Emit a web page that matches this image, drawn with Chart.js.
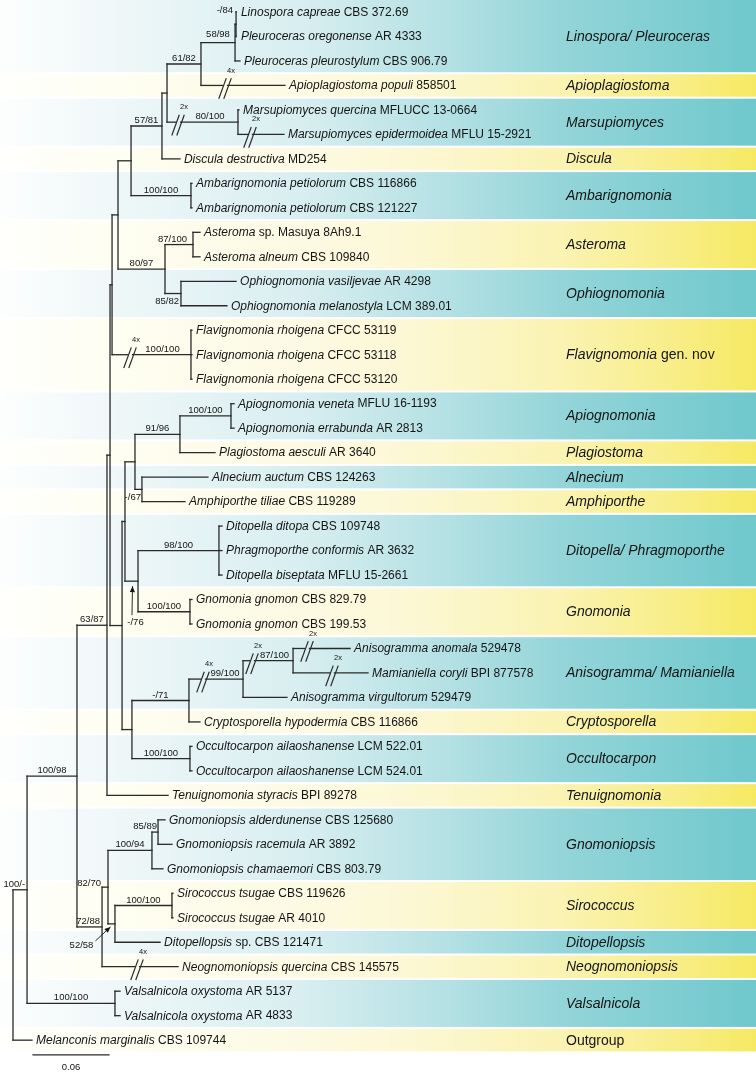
<!DOCTYPE html>
<html><head><meta charset="utf-8">
<script src="https://cdn.jsdelivr.net/npm/chart.js@4.4.1/dist/chart.umd.min.js"></script>
<style>html,body{margin:0;padding:0;background:#fff;}canvas{display:block}</style>
</head><body>
<canvas id="c" width="756" height="1074"></canvas>
<script>
// ---------- DATA ----------
const leafItalic = ['Linospora capreae','Pleuroceras oregonense','Pleuroceras pleurostylum','Apioplagiostoma populi','Marsupiomyces quercina','Marsupiomyces epidermoidea','Discula destructiva','Ambarignomonia petiolorum','Ambarignomonia petiolorum','Asteroma','Asteroma alneum','Ophiognomonia vasiljevae','Ophiognomonia melanostyla','Flavignomonia rhoigena','Flavignomonia rhoigena','Flavignomonia rhoigena','Apiognomonia veneta','Apiognomonia errabunda','Plagiostoma aesculi','Alnecium auctum','Amphiporthe tiliae','Ditopella ditopa','Phragmoporthe conformis','Ditopella biseptata','Gnomonia gnomon','Gnomonia gnomon','Anisogramma anomala','Mamianiella coryli','Anisogramma virgultorum','Cryptosporella hypodermia','Occultocarpon ailaoshanense','Occultocarpon ailaoshanense','Tenuignomonia styracis','Gnomoniopsis alderdunense','Gnomoniopsis racemula','Gnomoniopsis chamaemori','Sirococcus tsugae','Sirococcus tsugae','Ditopellopsis','Neognomoniopsis quercina','Valsalnicola oxystoma','Valsalnicola oxystoma','Melanconis marginalis'];
const leafRoman = [' CBS 372.69',' AR 4333',' CBS 906.79',' 858501',' MFLUCC 13-0664',' MFLU 15-2921',' MD254',' CBS 116866',' CBS 121227',' sp. Masuya 8Ah9.1',' CBS 109840',' AR 4298',' LCM 389.01',' CFCC 53119',' CFCC 53118',' CFCC 53120',' MFLU 16-1193',' AR 2813',' AR 3640',' CBS 124263',' CBS 119289',' CBS 109748',' AR 3632',' MFLU 15-2661',' CBS 829.79',' CBS 199.53',' 529478',' BPI 877578',' 529479',' CBS 116866',' LCM 522.01',' LCM 524.01',' BPI 89278',' CBS 125680',' AR 3892',' CBS 803.79',' CBS 119626',' AR 4010',' sp. CBS 121471',' CBS 145575',' AR 5137',' AR 4833',' CBS 109744'];
const leafParent = ['P3','P3','P2','P1','MA','MA','K','AM','AM','AS','AS','OP','OP','FL','FL','FL','U','U','V','W','W','Y','Y','Y','Z','Z','T','T','S','R','OC','OC','C','G','G','F','SI','SI','H','D','VA','VA','root'];
const leafDepth = [0.1768,0.1768,0.1792,0.2147,0.1784,0.2139,0.1318,0.1413,0.1413,0.1476,0.1476,0.1761,0.1689,0.1413,0.1413,0.1413,0.1745,0.1745,0.1595,0.1539,0.1358,0.1650,0.1650,0.1650,0.1413,0.1413,0.2661,0.2803,0.2163,0.1476,0.1413,0.1413,0.1224,0.1200,0.1255,0.1184,0.1263,0.1263,0.1161,0.1303,0.0845,0.0845,0.0150];

const nodeId      = ['root','A','B','C','O','N','L','J','K','K2','P1','P2','P3','MA','AM','M','AS','OP','FL','AC','AB','X','V','U','W','AA','Y','Z','Q','R','S','T','OC','D','E','F','G','H','SI','VA'];
const nodeParent  = [null,'root','A','B','C','O','N','L','J','K','K2','P1','P2','K2','J','L','M','M','N','O','AC','AB','X','V','X','AB','AA','AA','AC','Q','R','S','Q','B','D','E','F','E','H','A'];
const nodeDepth   = [0,0.0111,0.0505,0.0742,0.0766,0.0782,0.0829,0.0932,0.1176,0.1216,0.1484,0.1753,0.1761,0.1776,0.1405,0.1200,0.1421,0.1326,0.1405,0.0861,0.0884,0.0963,0.1318,0.1721,0.1018,0.0987,0.1626,0.1397,0.0939,0.1389,0.1816,0.2211,0.1397,0.0703,0.0750,0.1097,0.1145,0.0805,0.1255,0.0805];
const nodeSupport = ['','100/-','100/98','63/87','','','','','57/81','','61/82','58/98','-/84','80/100','100/100','80/97','87/100','85/82','100/100','','','','91/96','100/100','-/67','-/76','98/100','100/100','','-/71','99/100','87/100','100/100','72/88','82/70','100/94','85/89','52/58','100/100','100/100'];

const breakOn    = ['L3','MA','L5','FL','S','T','L26','L27','L39'];
const breakDepth = [0.1674,0.1303,0.1871,0.0924,0.1500,0.1887,0.2321,0.2518,0.0979];
const breakLabel = ['4x','2x','2x','4x','4x','2x','2x','2x','4x'];

const cladeItalic = ['Linospora/ Pleuroceras','Apioplagiostoma','Marsupiomyces','Discula','Ambarignomonia','Asteroma','Ophiognomonia','Flavignomonia','Apiognomonia','Plagiostoma','Alnecium','Amphiporthe','Ditopella/ Phragmoporthe','Gnomonia','Anisogramma/ Mamianiella','Cryptosporella','Occultocarpon','Tenuignomonia','Gnomoniopsis','Sirococcus','Ditopellopsis','Neognomoniopsis','Valsalnicola',''];
const cladeRoman  = ['','','','','','','',' gen. nov','','','','','','','','','','','','','','','','Outgroup'];
const cladeFirst  = [0,3,4,6,7,9,11,13,16,18,19,20,21,24,26,29,30,32,33,36,38,39,40,42];
const cladeLast   = [2,3,5,6,8,10,12,15,17,18,19,20,23,25,28,29,31,32,35,37,38,39,41,42];

const scaleBarStart = 0.0158;
const scaleBarLength = 0.06;
const scaleBarRow = 42.6;
const scaleBarLabel = '0.06';

// ---------- LAYOUT / STYLE ----------
const PX = 0.06 / 76;        // distance units per pixel
const ROW = 24.48;           // pixels per leaf row
const XMIN = -13 * PX, XMAX = XMIN + 756 * PX;
const YMIN = -12 / ROW, YMAX = YMIN + 1074 / ROW;
const LINE = '#2a2a2a';
const TXT = '#141414';
const FONT = '"Liberation Sans", Arial, Helvetica, sans-serif';
const TEAL = [[0,'#fdfefe'],[0.13,'#f1f8f9'],[0.4,'#d8eef0'],[0.6,'#b2e0e3'],[0.74,'#94d5d9'],[0.92,'#7accd0'],[1,'#6fc8cc']];
const YELL = [[0,'#fffffd'],[0.13,'#fefef3'],[0.4,'#fcfae3'],[0.53,'#fcf8d6'],[0.74,'#faf3b3'],[0.9,'#f8ed85'],[1,'#f5e963']];
const supportLayout = {OP:{mode:'below',pad:2},W:{mode:'below',pad:1},E:{mode:'parentLeft'},AA:{mode:'arrowUp'},H:{mode:'arrowDiag'},AS:{mode:'right',pad:6},G:{mode:'right',pad:1},P3:{mode:'right',pad:3,dy:-8},P2:{dy:-3}};

// ---------- TREE GEOMETRY ----------
const pos = {};
leafItalic.forEach((_, i) => { pos['L' + i] = {depth: leafDepth[i], y: i, parent: leafParent[i], leaf: true}; });
nodeId.forEach((id, i) => { pos[id] = {depth: nodeDepth[i], parent: nodeParent[i], support: nodeSupport[i], children: []}; });
Object.keys(pos).forEach(id => { const p = pos[id].parent; if (p) pos[p].children.push(id); });
function yOf(id) {
  const n = pos[id];
  if (n.y !== undefined) return n.y;
  const ys = n.children.map(yOf);
  n.minY = Math.min(...ys); n.maxY = Math.max(...ys);
  n.y = (n.minY + n.maxY) / 2;
  return n.y;
}
yOf('root');

const datasets = [];
function seg(x1, y1, x2, y2, w) {
  datasets.push({data: [{x: x1, y: y1}, {x: x2, y: y2}], showLine: true, borderColor: LINE,
    borderWidth: w || 1.3, pointRadius: 0, borderCapStyle: 'square', fill: false});
}
const GAP = 2.5 * PX;
Object.keys(pos).forEach(id => {
  const n = pos[id];
  if (n.parent) {
    const p = pos[n.parent];
    const bi = breakOn.indexOf(id);
    if (bi < 0) seg(p.depth, n.y, n.depth, n.y);
    else { seg(p.depth, n.y, breakDepth[bi] - GAP, n.y); seg(breakDepth[bi] + GAP, n.y, n.depth, n.y); }
  }
  if (!n.leaf) seg(n.depth, n.minY, n.depth, n.maxY);
});
const slashPts = [];
breakOn.forEach((id, i) => {
  const y = pos[id].y + 3 / ROW;
  slashPts.push({x: breakDepth[i] - GAP, y: y}, {x: breakDepth[i] + GAP, y: y});
});
datasets.push({data: slashPts, showLine: false, pointStyle: 'line', pointRotation: -70, pointRadius: 11,
  pointHoverRadius: 11, pointBorderColor: LINE, pointBackgroundColor: LINE, pointBorderWidth: 1.2});
seg(scaleBarStart, scaleBarRow, scaleBarStart + scaleBarLength, scaleBarRow, 1.2);

// ---------- PLUGINS ----------
const bandPlugin = {
  id: 'bands',
  beforeDatasetsDraw(chart) {
    const {ctx, scales: {x: xs, y: ys}} = chart;
    const W = chart.width;
    ctx.save();
    cladeFirst.forEach((f, i) => {
      let top = ys.getPixelForValue(f - 0.5) + 1;
      let bot = ys.getPixelForValue(cladeLast[i] + 0.5) - 1;
      if (i === 0) top = 0;
      const g = ctx.createLinearGradient(0, 0, W, 0);
      (i % 2 === 0 ? TEAL : YELL).forEach(s => g.addColorStop(s[0], s[1]));
      ctx.fillStyle = g;
      ctx.fillRect(0, top, W, bot - top);
    });
    ctx.restore();
  }
};

function arrow(ctx, x1, y1, x2, y2) {
  ctx.beginPath(); ctx.moveTo(x1, y1); ctx.lineTo(x2, y2); ctx.stroke();
  const a = Math.atan2(y2 - y1, x2 - x1), L = 6, H = 2.6;
  ctx.beginPath();
  ctx.moveTo(x2, y2);
  ctx.lineTo(x2 - L * Math.cos(a) + H * Math.sin(a), y2 - L * Math.sin(a) - H * Math.cos(a));
  ctx.lineTo(x2 - L * Math.cos(a) - H * Math.sin(a), y2 - L * Math.sin(a) + H * Math.cos(a));
  ctx.closePath(); ctx.fill();
}

const textPlugin = {
  id: 'texts',
  afterDatasetsDraw(chart) {
    const {ctx, scales: {x: xs, y: ys}} = chart;
    ctx.save();
    ctx.fillStyle = TXT; ctx.strokeStyle = LINE; ctx.lineWidth = 1;
    // leaf labels
    ctx.textBaseline = 'middle'; ctx.textAlign = 'left';
    leafItalic.forEach((t, i) => {
      const x = xs.getPixelForValue(leafDepth[i]) + 4, y = ys.getPixelForValue(i) + 0.5;
      ctx.font = 'italic 12px ' + FONT; ctx.fillText(t, x, y);
      const w = ctx.measureText(t).width;
      ctx.font = '12px ' + FONT; ctx.fillText(leafRoman[i], x + w, y);
    });
    // clade labels
    cladeFirst.forEach((f, i) => {
      const y = ys.getPixelForValue((f + cladeLast[i]) / 2) + 0.5;
      let x = 566;
      if (cladeItalic[i]) { ctx.font = 'italic 14px ' + FONT; ctx.fillText(cladeItalic[i], x, y); x += ctx.measureText(cladeItalic[i]).width; }
      if (cladeRoman[i]) { ctx.font = '14px ' + FONT; ctx.fillText(cladeRoman[i], x, y); }
    });
    // support values
    ctx.font = '9.5px ' + FONT;
    nodeId.forEach((id, i) => {
      const s = nodeSupport[i]; if (!s) return;
      const n = pos[id], p = pos[n.parent];
      const px = xs.getPixelForValue(p.depth), nx = xs.getPixelForValue(n.depth), ny = ys.getPixelForValue(n.y);
      const lay = supportLayout[id] || {};
      const w = ctx.measureText(s).width;
      const dy = lay.dy || 0;
      const mx = (px + nx) / 2;
      if (lay.mode === 'below') {
        ctx.textAlign = 'right'; ctx.textBaseline = 'top'; ctx.fillText(s, nx - lay.pad, ny + 3.5);
      } else if (lay.mode === 'parentLeft') {
        ctx.textAlign = 'right'; ctx.textBaseline = 'alphabetic'; ctx.fillText(s, px - 1, ny - 1);
      } else if (lay.mode === 'arrowUp') {
        arrow(ctx, mx + 0.5, ny + 34, mx + 1, ny + 5);
        ctx.textAlign = 'center'; ctx.textBaseline = 'middle'; ctx.fillText(s, mx + 4, ny + 41.5);
      } else if (lay.mode === 'arrowDiag') {
        arrow(ctx, mx - 16, ny + 17, mx - 1, ny + 3);
        ctx.textAlign = 'center'; ctx.textBaseline = 'middle'; ctx.fillText(s, mx - 30, ny + 21.5);
      } else {
        let start = px;
        const bi = breakOn.indexOf(id);
        if (bi >= 0) start = xs.getPixelForValue(breakDepth[bi]) + 4;
        ctx.textBaseline = 'alphabetic';
        if (lay.mode !== 'right' && w <= nx - start - 2) { ctx.textAlign = 'center'; ctx.fillText(s, (start + nx) / 2, ny - 3 + dy); }
        else { ctx.textAlign = 'right'; ctx.fillText(s, nx - (lay.pad || 2), ny - 3 + dy); }
      }
    });
    // break multipliers
    ctx.font = '7.5px ' + FONT; ctx.textAlign = 'center'; ctx.textBaseline = 'middle';
    breakOn.forEach((id, i) => {
      ctx.fillText(breakLabel[i], xs.getPixelForValue(breakDepth[i]) + 6, ys.getPixelForValue(pos[id].y) - 15);
    });
    // scale label
    ctx.font = '9.5px ' + FONT;
    ctx.fillText(scaleBarLabel, xs.getPixelForValue(scaleBarStart + scaleBarLength / 2), ys.getPixelForValue(scaleBarRow) + 13);
    ctx.restore();
  }
};

new Chart(document.getElementById('c'), {
  type: 'scatter',
  data: {datasets: datasets},
  options: {
    responsive: false, animation: false, devicePixelRatio: 1, events: [],
    layout: {padding: 0, autoPadding: false},
    plugins: {legend: {display: false}, tooltip: {enabled: false}},
    scales: {
      x: {type: 'linear', min: XMIN, max: XMAX, bounds: 'data', display: false},
      y: {type: 'linear', min: YMIN, max: YMAX, reverse: true, bounds: 'data', display: false}
    }
  },
  plugins: [bandPlugin, textPlugin]
});
</script></body></html>
